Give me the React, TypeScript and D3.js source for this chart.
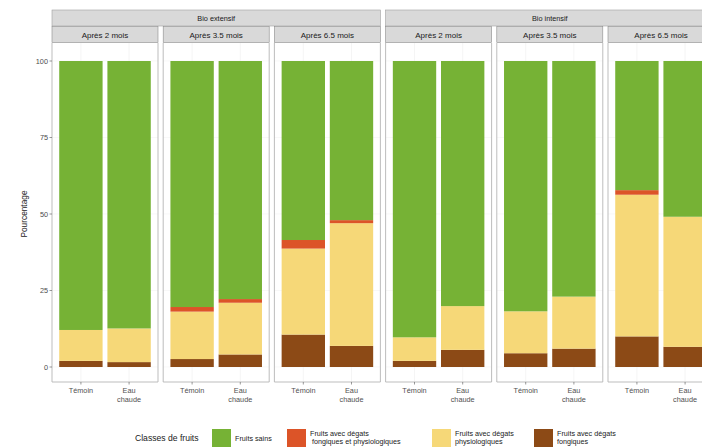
import React from "react";
import * as d3 from "d3";

// Facet structure
const systems = ["Bio extensif", "Bio intensif"];
const periods = ["Après 2 mois", "Après 3.5 mois", "Après 6.5 mois"];
const treatments = ["Témoin", "Eau chaude"];

// Percentages per bar, ordered system > period > treatment
const fongiques = [2.0, 1.6, 2.6, 4.1, 10.6, 6.9, 2.0, 5.6, 4.5, 6.0, 10.0, 6.6];
const physiologiques = [10.1, 11.0, 15.5, 16.9, 28.1, 40.1, 7.7, 14.3, 13.7, 17.0, 46.3, 42.5];
const fongPhysio = [0, 0, 1.5, 1.2, 2.8, 1.0, 0, 0, 0, 0, 1.5, 0];
const sains = [87.9, 87.4, 80.4, 77.8, 58.5, 52.0, 90.3, 80.1, 81.8, 77.0, 42.2, 50.9];

const yTicks = [0, 25, 50, 75, 100];

const classKeys = ["fongiques", "physiologiques", "fongPhysio", "sains"];
const classColors: Record<string, string> = {
  sains: "#76b235",
  fongPhysio: "#dc5428",
  physiologiques: "#f6d878",
  fongiques: "#8c4a16",
};
const legendItems = [
  { key: "sains", lines: ["Fruits sains"] },
  { key: "fongPhysio", lines: ["Fruits avec dégats", " fongiques et physiologiques"] },
  { key: "physiologiques", lines: ["Fruits avec dégats", "physiologiques"] },
  { key: "fongiques", lines: ["Fruits avec dégats", "fongiques"] },
];

const W = 702;
const H = 448;
const FONT = "'Liberation Sans', Arial, sans-serif";

const panelX0 = 52;
const panelW = 106;
const panelStep = 111.2;
const panelTop = 43;
const panelBottom = 382;

export default function App() {
  const rows = systems.flatMap((s) =>
    periods.flatMap((p) => treatments.map((t) => ({ system: s, period: p, treatment: t })))
  ).map((r, i) => ({
    ...r,
    fongiques: fongiques[i],
    physiologiques: physiologiques[i],
    fongPhysio: fongPhysio[i],
    sains: sains[i],
  }));

  const stacked = d3.stack<any>().keys(classKeys)(rows);

  const y = d3.scaleLinear().domain([0, 100]).range([367, 61]);
  const panelIndex = (s: string, p: string) => systems.indexOf(s) * periods.length + periods.indexOf(p);
  const panelLeft = (k: number) => panelX0 + k * panelStep;
  // Discrete x scale inside a panel: positions 1..2 on a [0.4, 2.6] continuous range
  const xUnit = d3.scaleLinear().domain([0.4, 2.6]).range([0, panelW]);
  const barW = xUnit(0.9) - xUnit(0);
  const centerX = (k: number, t: string) => panelLeft(k) + xUnit(treatments.indexOf(t) + 1);

  const nPanels = systems.length * periods.length;

  return (
    <div style={{ position: "fixed", left: 0, top: 0 }}>
      <svg width={W} height={H} style={{ display: "block", background: "#fff" }} fontFamily={FONT}>
        {/* panels */}
        {d3.range(nPanels).map((k) => {
          const x0 = panelLeft(k);
          return (
            <g key={"panel" + k}>
              <rect x={x0} y={panelTop} width={panelW} height={panelBottom - panelTop} fill="#fff" />
              {yTicks.map((v) => (
                <line key={v} x1={x0} x2={x0 + panelW} y1={y(v)} y2={y(v)} stroke="#f3f3f3" strokeWidth={0.6} />
              ))}
              {treatments.map((t) => (
                <line key={t} x1={centerX(k, t)} x2={centerX(k, t)} y1={panelTop} y2={panelBottom} stroke="#eeeeee" strokeWidth={0.6} />
              ))}
            </g>
          );
        })}

        {/* stacked bars */}
        {stacked.map((layer) => (
          <g key={layer.key} fill={classColors[layer.key]}>
            {layer.map((d: any, i: number) => {
              const r = rows[i];
              const k = panelIndex(r.system, r.period);
              const cx = centerX(k, r.treatment);
              const top = y(d[1]);
              const h = y(d[0]) - top;
              if (h <= 0) return null;
              return <rect key={i} x={cx - barW / 2} y={top} width={barW} height={h} />;
            })}
          </g>
        ))}

        {/* panel borders and x axis */}
        {d3.range(nPanels).map((k) => {
          const x0 = panelLeft(k);
          return (
            <g key={"border" + k}>
              <line x1={x0} x2={x0} y1={panelTop} y2={panelBottom} stroke="#b5b5b5" strokeWidth={0.9} />
              <line x1={x0 + panelW} x2={x0 + panelW} y1={panelTop} y2={panelBottom} stroke="#b5b5b5" strokeWidth={0.9} />
              <line x1={x0} x2={x0 + panelW} y1={panelBottom} y2={panelBottom} stroke="#b5b5b5" strokeWidth={0.9} />
              {treatments.map((t) => {
                const cx = centerX(k, t);
                const words = t === "Eau chaude" ? ["Eau", "chaude"] : [t];
                return (
                  <g key={t}>
                    <line x1={cx} x2={cx} y1={panelBottom} y2={panelBottom + 2.5} stroke="#555" strokeWidth={0.6} />
                    {words.map((w, j) => (
                      <text key={w} x={cx} y={393 + j * 8.5} fontSize={7.3} fill="#505050" textAnchor="middle">
                        {w}
                      </text>
                    ))}
                  </g>
                );
              })}
            </g>
          );
        })}

        {/* y axis */}
        {yTicks.map((v) => (
          <g key={v}>
            <line x1={panelX0 - 2.5} x2={panelX0} y1={y(v)} y2={y(v)} stroke="#555" strokeWidth={0.6} />
            <text x={panelX0 - 4} y={y(v) + 2.5} fontSize={7.3} fill="#4d4d4d" textAnchor="end">
              {v}
            </text>
          </g>
        ))}
        <text
          transform={`translate(27,${(y(0) + y(100)) / 2}) rotate(-90)`}
          fontSize={8.3}
          fill="#222"
          textAnchor="middle"
        >
          Pourcentage
        </text>

        {/* strips: system row */}
        {systems.map((s, si) => {
          const x0 = panelLeft(si * periods.length);
          const x1 = panelLeft(si * periods.length + periods.length - 1) + panelW;
          return (
            <g key={s}>
              <rect x={x0} y={10} width={x1 - x0} height={16} fill="#d9d9d9" stroke="#a0a0a0" strokeWidth={0.6} />
              <text x={(x0 + x1) / 2} y={20.8} fontSize={7.3} fill="#1a1a1a" textAnchor="middle">
                {s}
              </text>
            </g>
          );
        })}
        {/* strips: period row */}
        {d3.range(nPanels).map((k) => {
          const x0 = panelLeft(k);
          return (
            <g key={"strip" + k}>
              <rect x={x0} y={26.5} width={panelW} height={16} fill="#d9d9d9" stroke="#8c8c8c" strokeWidth={0.6} />
              <text x={x0 + panelW / 2} y={37.5} fontSize={8} fill="#1a1a1a" textAnchor="middle">
                {periods[k % periods.length]}
              </text>
            </g>
          );
        })}

        {/* legend */}
        <g>
          <text x={135} y={441} fontSize={8.6} fill="#1a1a1a">
            Classes de fruits
          </text>
          {legendItems.map((item, i) => {
            const keyX = [212, 287, 432, 534][i];
            return (
              <g key={item.key}>
                <rect x={keyX} y={429} width={19} height={18} fill={classColors[item.key]} />
                {item.lines.length === 1 ? (
                  <text x={keyX + 23} y={440.5} fontSize={7.2} fill="#1a1a1a">
                    {item.lines[0]}
                  </text>
                ) : (
                  item.lines.map((l, j) => (
                    <text key={j} x={keyX + 23} y={436 + j * 7.6} fontSize={7.2} fill="#1a1a1a" style={{ whiteSpace: "pre" }}>
                      {l}
                    </text>
                  ))
                )}
              </g>
            );
          })}
        </g>
      </svg>
    </div>
  );
}
